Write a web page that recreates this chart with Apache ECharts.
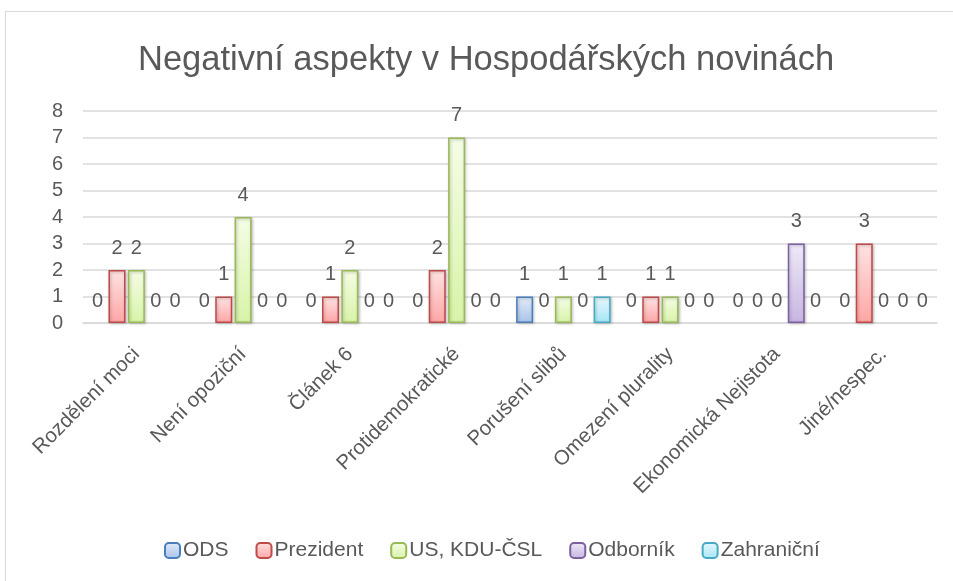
<!DOCTYPE html>
<html>
<head>
<meta charset="utf-8">
<script src="https://cdn.jsdelivr.net/npm/echarts@6/dist/echarts.min.js"></script>
<style>
  html, body { margin: 0; padding: 0; background: #fff; }
  #frame {
    position: absolute; left: 5px; top: 11px; width: 948px; height: 570px;
    border-top: 1px solid #d9d9d9; border-left: 1px solid #d9d9d9;
  }
  #chart { position: absolute; left: 0; top: 0; width: 953px; height: 581px; }
</style>
</head>
<body>
<div id="frame"></div>
<div id="chart"></div>
<script>
const categories = ['Rozdělení moci', 'Není opoziční', 'Článek 6', 'Protidemokratické',
  'Porušení slibů', 'Omezení plurality', 'Ekonomická Nejistota', 'Jiné/nespec.']
const seriesNames = ['ODS', 'Prezident', 'US, KDU-ČSL', 'Odborník', 'Zahraniční']
const ods = [0, 0, 0, 0, 1, 0, 0, 0]
const prezident = [2, 1, 1, 2, 0, 1, 0, 3]
const usKdu = [2, 4, 2, 7, 1, 1, 0, 0]
const odbornik = [0, 0, 0, 0, 0, 0, 3, 0]
const zahranicni = [0, 0, 0, 0, 1, 0, 0, 0]
const yTicks = [0, 1, 2, 3, 4, 5, 6, 7, 8]

const values = [ods, prezident, usKdu, odbornik, zahranicni]
const palette = [
  { top: '#e3ebf7', bottom: '#a8c3ea', border: '#4a7ebb' },
  { top: '#ffe3e3', bottom: '#ffa5a5', border: '#be4b48' },
  { top: '#f5fde6', bottom: '#d8f3a8', border: '#98b954' },
  { top: '#efeaf7', bottom: '#c6b5e2', border: '#7d60a0' },
  { top: '#e6f8fd', bottom: '#a6e6f6', border: '#46aac5' }
]
const font = 'Liberation Sans, Arial, sans-serif'
const grey = '#595959'

const chart = echarts.init(document.getElementById('chart'), null, { renderer: 'canvas' })

const option = {
  animation: false,
  title: {
    text: 'Negativní aspekty v Hospodářských novinách',
    left: 133,
    top: 38,
    textStyle: { fontFamily: font, fontSize: 34.5, fontWeight: 'normal', color: grey }
  },
  legend: {
    bottom: 15,
    left: 159,
    itemWidth: 15,
    itemHeight: 15,
    itemGap: 27,
    data: seriesNames,
    textStyle: { fontFamily: font, fontSize: 21, color: grey, padding: [0, 0, 0, -2] }
  },
  grid: { left: 83, right: 16, top: 111, bottom: 258, containLabel: false },
  xAxis: {
    type: 'category',
    data: categories,
    axisLine: { lineStyle: { color: '#d9d9d9', width: 1.5 } },
    axisTick: { show: false },
    axisLabel: { rotate: 45, interval: 0, fontFamily: font, fontSize: 20.5, color: grey, margin: 28 }
  },
  yAxis: {
    type: 'value',
    min: yTicks[0],
    max: yTicks[yTicks.length - 1],
    interval: 1,
    axisLabel: { fontFamily: font, fontSize: 20, color: grey, margin: 20 },
    splitLine: { lineStyle: { color: '#d9d9d9', width: 1.5 } }
  },
  series: seriesNames.map((name, i) => ({
    name: name,
    type: 'bar',
    // zero values keep their label but draw no visible bar outline
    data: values[i].map(v => v === 0
      ? { value: v, itemStyle: { borderWidth: 0, shadowBlur: 0, shadowOffsetX: 0, shadowOffsetY: 0 } }
      : v),
    barWidth: 17,
    barGap: '14%',
    itemStyle: {
      color: new echarts.graphic.LinearGradient(0, 0, 0, 1, [
        { offset: 0, color: palette[i].top },
        { offset: 1, color: palette[i].bottom }
      ]),
      borderColor: palette[i].border,
      borderWidth: 1.5,
      shadowColor: 'rgba(0,0,0,0.25)',
      shadowBlur: 3,
      shadowOffsetX: 1,
      shadowOffsetY: 1
    },
    label: {
      show: true,
      position: 'top',
      distance: 12,
      fontFamily: font,
      fontSize: 20,
      color: grey
    }
  }))
}

chart.setOption(option)
window.addEventListener('resize', chart.resize)
</script>
</body>
</html>
